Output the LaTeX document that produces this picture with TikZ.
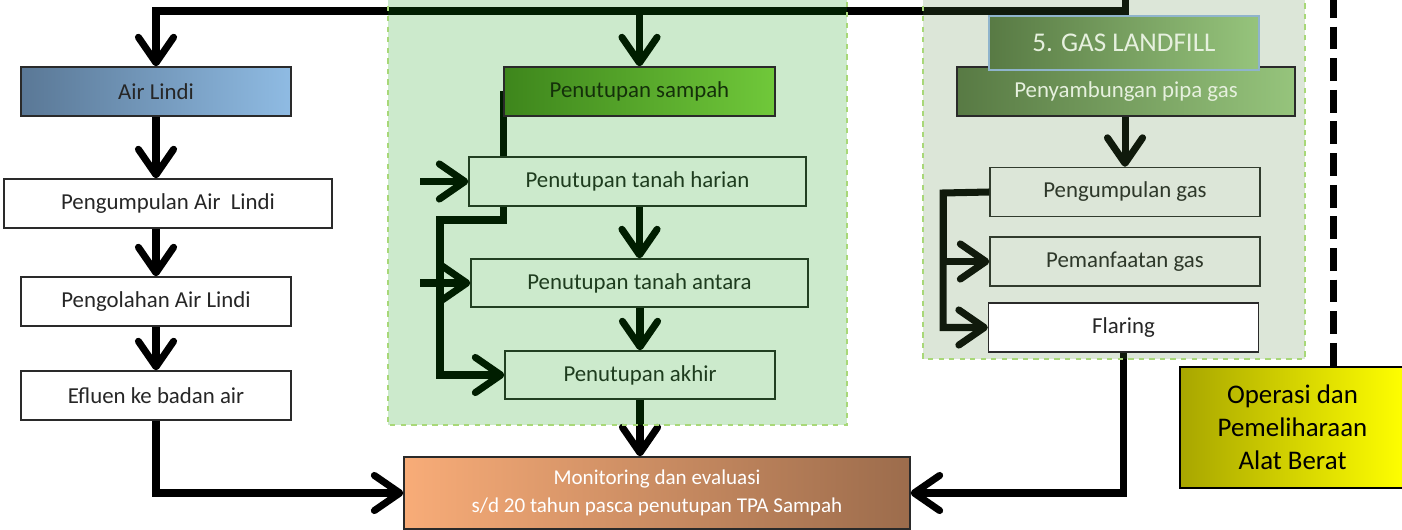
\documentclass[tikz,border=0pt]{standalone}
\usepackage{fontspec}
\setmainfont{Carlito}
\usetikzlibrary{arrows.meta,positioning}
\definecolor{txt}{HTML}{262626}
\definecolor{boxline}{HTML}{2A2A2A}
\definecolor{airL}{HTML}{5A7896}
\definecolor{airR}{HTML}{8FBBE3}
\definecolor{smpL}{HTML}{3E861C}
\definecolor{smpR}{HTML}{70C83A}
\definecolor{smpT}{HTML}{14300A}
\definecolor{pipaL}{HTML}{587A44}
\definecolor{pipaR}{HTML}{96C47C}
\definecolor{paleT}{HTML}{E6F0DE}
\definecolor{steel}{HTML}{8FB4CC}
\definecolor{monL}{HTML}{F8AC78}
\definecolor{monR}{HTML}{9C6C4C}
\definecolor{opL}{HTML}{A8A600}
\definecolor{opR}{HTML}{FFFF00}
\definecolor{veilA}{RGB}{0,150,0}
\definecolor{veilB}{RGB}{80,130,60}
\definecolor{zoneline}{HTML}{A8D878}
\pgfdeclarelayer{veil}
\pgfdeclarelayer{front}
\pgfsetlayers{main,veil,front}
\begin{document}
\begin{tikzpicture}[x=0.02cm,y=-0.02cm,
    b/.style={draw=boxline,line width=0.8pt,fill=white,text=txt,inner sep=0pt,
              minimum width=5.4cm,minimum height=0.98cm,font=\fontsize{13}{15}\selectfont},
    ln/.style={line width=4pt},
    arr/.style={ln,-{Straight Barb[length=14.5pt,width=20pt,round]}},
    zone/.style={draw=zoneline,dashed,line width=0.6pt}]
    \useasboundingbox (0,0) rectangle (1402,530);

    % top boxes over the panels
    \begin{pgfonlayer}{front}
    \node[b,left color=smpL,right color=smpR,text=smpT,minimum width=5.42cm] (sampah) at (639.5,91.5) {Penutupan sampah};
    \node[b,left color=pipaL,right color=pipaR,text=paleT,minimum width=6.76cm] (pipa) at (1126,91.5) {Penyambungan pipa gas};
    \node[b,left color=pipaL,right color=pipaR,draw=steel,text=paleT,minimum height=1.08cm,
          font=\fontsize{15.4}{18}\selectfont] (landfill) at (1124,43) {5. GAS LANDFILL};
    \node[b] (flaring) at (1123.5,327.5) {Flaring};
    \end{pgfonlayer}

    % air lindi
    \node[b,left color=airL,right color=airR] (lindi) at (156,91.5) {Air Lindi};
    \node[b,minimum width=6.56cm] (kumpul) at (168,203.5) {Pengumpulan Air\ \ Lindi};
    \node[b] (olah) at (156,301.5) {Pengolahan Air Lindi};
    \node[b] (efluen) at (156,395.5) {Efluen ke badan air};

    % penutupan
    \node[b,minimum width=6.74cm] (harian) at (637.5,181.5) {Penutupan tanah harian};
    \node[b,minimum width=6.74cm,minimum height=0.96cm] (antara) at (639.5,283) {Penutupan tanah antara};
    \node[b,minimum height=0.96cm] (akhir) at (640,375) {Penutupan akhir};

    % gas
    \node[b] (kumpulgas) at (1125,192) {Pengumpulan gas};
    \node[b] (manfaat) at (1125,261.5) {Pemanfaatan gas};

    % hasil
    \node[b,left color=monL,right color=monR,text=white,minimum width=10.12cm,minimum height=1.44cm,
          align=center,font=\fontsize{12}{15.9}\selectfont] (monev) at (657,493)
          {Monitoring dan evaluasi\\ s/d 20 tahun pasca penutupan TPA Sampah};
    \node[b,left color=opL,right color=opR,draw=black,text=black,minimum width=4.5cm,minimum height=2.42cm,
          align=center,font=\fontsize{15.3}{18.7}\selectfont] (operasi) at (1292.5,427.5)
          {Operasi dan\\ Pemeliharaan\\ Alat Berat};

    % connectors
    \coordinate (src) at (1125,-5);
    \coordinate (bus) at (1125,11);
    \draw[arr] (src) -- (bus) -| (lindi.north);
    \draw[arr] (sampah.north |- bus) -- (sampah.north);
    \draw[arr] (lindi.south) -- (lindi.south |- kumpul.north);
    \draw[arr] (olah.north |- kumpul.south) -- (olah.north);
    \draw[arr] (olah) -- (efluen);
    \draw[arr] (efluen.south) |- (monev.west);

    \draw[ln] (sampah.west) -- (sampah.west |- harian.north);
    \coordinate (inh) at (420,181.5);
    \coordinate (ina) at (420,283);
    \coordinate (jl) at (440,220);
    \draw[arr] (inh) -- (harian.west);
    \draw[arr] (ina) -- (antara.west);
    \draw[arr] (antara.north |- harian.south) -- (antara.north);
    \draw[arr] (sampah.west |- harian.south) |- (jl) |- (akhir.west);
    \draw[arr] (akhir.north |- antara.south) -- (akhir.north);
    \draw[arr] (akhir.south) -- (akhir.south |- monev.north);

    \draw[arr] (kumpulgas.north |- pipa.south) -- (kumpulgas.north);
    \coordinate (gl) at (943,193);
    \draw[arr] (kumpulgas.west) -- (gl) |- (flaring.west);
    \draw[arr] (gl) |- (manfaat.west);
    \draw[arr] (flaring.south) |- (monev.east);

    \coordinate (dtop) at (1333,-5);
    \draw[ln,dash pattern=on 13pt off 5pt] (dtop) -- (dtop |- operasi.north);

    % panels
    \begin{pgfonlayer}{veil}
    \path[zone,fill=veilA,fill opacity=0.2] (388,-5) rectangle (847,425);
    \path[zone,fill=veilB,fill opacity=0.2] (923,-5) rectangle (1305,359);
    \end{pgfonlayer}
\end{tikzpicture}
\end{document}
